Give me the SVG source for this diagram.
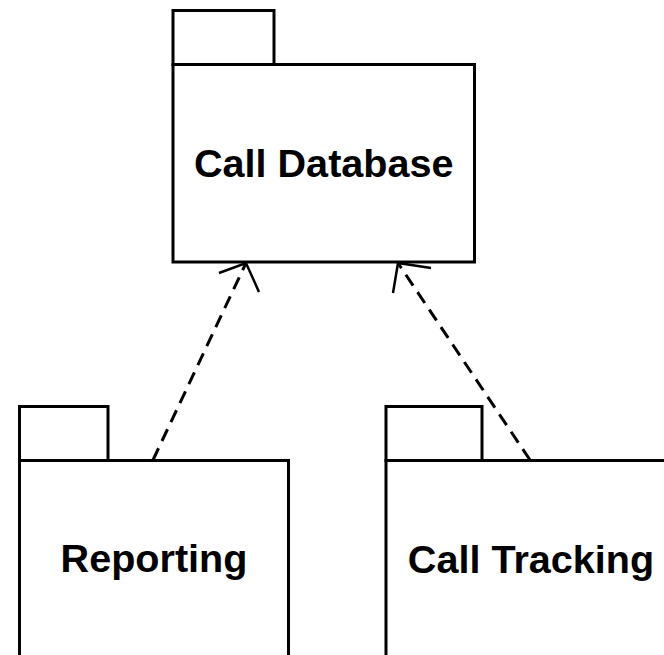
<svg xmlns="http://www.w3.org/2000/svg" width="664" height="655" viewBox="0 0 664 655">
<style>
.box{fill:#fff;stroke:#000;stroke-width:3}
.lbl{font-family:"Liberation Sans",Arial,sans-serif;font-weight:bold;font-size:39.6px;fill:#000;text-anchor:middle}
.dep{fill:none;stroke:#000;stroke-width:3;stroke-dasharray:13,8}
.head{fill:none;stroke:#000;stroke-width:2.5}
</style>
<rect width="664" height="655" fill="#fff"/>
<g id="callDatabase">
<rect class="box" x="173" y="10.5" width="101" height="54"/>
<rect class="box" x="173" y="64.5" width="301.5" height="197.5"/>
<text class="lbl" x="323.75" y="177">Call Database</text>
</g>
<g id="reporting">
<rect class="box" x="19.5" y="406.5" width="88.5" height="54"/>
<rect class="box" x="19.5" y="460.5" width="269" height="210"/>
<text class="lbl" x="154" y="572">Reporting</text>
</g>
<g id="callTracking">
<rect class="box" x="386" y="406.5" width="96" height="54"/>
<rect class="box" x="386" y="460.5" width="290" height="210"/>
<text class="lbl" x="531" y="573">Call Tracking</text>
</g>
<g id="connectors">
<line class="dep" x1="153" y1="460" x2="246" y2="263"/>
<polyline class="head" points="219,273 246,263 259,292"/>
<line class="dep" x1="530" y1="460" x2="398" y2="263"/>
<polyline class="head" points="431,268 398,263 393,293"/>
</g>
</svg>
